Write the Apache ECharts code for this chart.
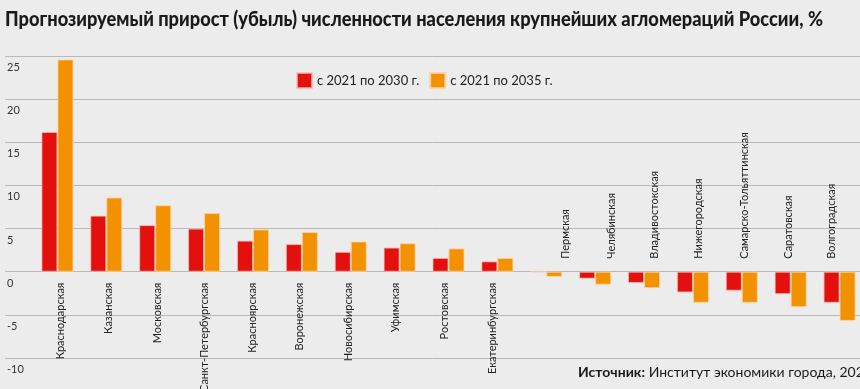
<!DOCTYPE html>
<html><head><meta charset="utf-8">
<script src="https://cdn.jsdelivr.net/npm/echarts@6.0.0/dist/echarts.min.js"></script>
<style>html,body{margin:0;padding:0;background:#ececec}#c{width:860px;height:389px}</style>
</head><body><div id="c"></div>
<script>
const categories = ['Краснодарская','Казанская','Московская','Санкт-Петербургская','Красноярская','Воронежская','Новосибирская','Уфимская','Ростовская','Екатеринбургская','Пермская','Челябинская','Владивостокская','Нижегородская','Самарско-Тольяттинская','Саратовская','Волгоградская'];
const values2030 = [16.2, 6.5, 5.4, 5.0, 3.6, 3.2, 2.3, 2.8, 1.6, 1.2, 0, -0.8, -1.3, -2.4, -2.2, -2.6, -3.6];
const values2035 = [24.6, 8.6, 7.7, 6.8, 4.9, 4.6, 3.5, 3.3, 2.7, 1.6, -0.6, -1.5, -1.9, -3.6, -3.6, -4.1, -5.7];
const seriesNames = ['с 2021 по 2030 г.', 'с 2021 по 2035 г.'];
const yMin = -10, yMax = 25, yStep = 5;
const titleText = 'Прогнозируемый прирост (убыль) численности населения крупнейших агломераций России, %';
const sourceLabel = 'Источник:';
const sourceText = 'Институт экономики города, 2023 г.';

// layout: horizontal nudge (px) of each category label, as hand-placed in the original
const labelNudge = [3, 2, 2, 0, -1, -2, -2, -4, -4, -5, 19, 16, 10, 6, 3, -2, -8];

const FONT = 'Lato, "Noto Sans", sans-serif';
const TITLE_FONT = '900 20px Lato, "Noto Sans", sans-serif';
const GRID_LINE = '#b9b9b9';
const GRID_TOP = 56, GRID_BOTTOM = 31, H = 389;
const gridH = H - GRID_TOP - GRID_BOTTOM;
const zeroFromBottom = (0 - yMin) / (yMax - yMin) * gridH;
const zeroFromTop = gridH - zeroFromBottom;

const chart = echarts.init(document.getElementById('c'), null, {renderer: 'canvas'});
const isNeg = i => values2035[i] < 0;

const mc = document.createElement('canvas').getContext('2d');
mc.font = TITLE_FONT;
const titleScale = 818 / mc.measureText(titleText).width;

const labelRich = {};
labelNudge.forEach((d, i) => {
  labelRich['s' + i] = {
    fontFamily: FONT, fontSize: 11, color: '#222',
    padding: [Math.max(0, 2 * d), 0, Math.max(0, -2 * d), 0]
  };
});
const catLabel = show => (v, i) => show(i) ? '{s' + i + '|' + v + '}' : '';

chart.setOption({
  backgroundColor: '#ececec',
  animation: false,
  legend: {
    left: 291, top: 67, itemWidth: 15, itemHeight: 15, itemGap: 10, icon: 'rect',
    textStyle: {fontFamily: FONT, fontSize: 13, color: '#222'},
    data: seriesNames
  },
  grid: [
    {left: 33, right: -4, top: GRID_TOP, bottom: GRID_BOTTOM, outerBoundsMode: 'none', containLabel: false},
    {left: 5, right: 0, top: GRID_TOP, bottom: GRID_BOTTOM, outerBoundsMode: 'none', containLabel: false}
  ],
  xAxis: [
    {type: 'category', gridIndex: 0, data: categories, position: 'bottom', offset: -zeroFromBottom,
     axisLine: {show: false, onZero: false}, axisTick: {show: false},
     axisLabel: {rotate: 90, margin: 11, interval: 0, fontFamily: FONT, fontSize: 11, color: '#222',
       rich: labelRich, formatter: catLabel(i => !isNeg(i))}},
    {type: 'category', gridIndex: 0, data: categories, position: 'top', offset: -zeroFromTop,
     axisLine: {show: false, onZero: false}, axisTick: {show: false},
     axisLabel: {rotate: -90, margin: 13, interval: 0, fontFamily: FONT, fontSize: 11, color: '#222',
       rich: labelRich, formatter: catLabel(isNeg)}},
    {type: 'value', gridIndex: 1, show: false, min: 0, max: 1}
  ],
  yAxis: [
    {type: 'value', gridIndex: 0, min: yMin, max: yMax, interval: yStep, show: false},
    {type: 'value', gridIndex: 1, min: yMin, max: yMax, interval: yStep,
     axisLine: {show: false}, axisTick: {show: false},
     splitLine: {show: true, lineStyle: {color: GRID_LINE, width: 1}},
     axisLabel: {inside: true, margin: 2, verticalAlign: 'top', padding: [6, 0, 0, 0],
       fontFamily: FONT, fontSize: 11, color: '#333'}}
  ],
  series: [
    {name: seriesNames[0], type: 'bar', xAxisIndex: 0, yAxisIndex: 0, data: values2030,
     barWidth: 16, barGap: '0%',
     itemStyle: {color: '#e3100d', borderColor: 'rgba(255,190,180,0.7)', borderWidth: 1}},
    {name: seriesNames[1], type: 'bar', xAxisIndex: 0, yAxisIndex: 0, data: values2035,
     barWidth: 16, barGap: '0%',
     itemStyle: {color: '#f39200', borderColor: 'rgba(255,210,160,0.8)', borderWidth: 1}}
  ],
  graphic: [
    {type: 'text', x: 5, y: 10, scaleX: titleScale, scaleY: 1,
     style: {text: titleText, font: TITLE_FONT, fill: '#1a1a1a', textVerticalAlign: 'top'}},
    {type: 'text', left: 578, top: 365,
     style: {
       text: '{b|' + sourceLabel + '} ' + sourceText,
       font: '14px ' + FONT, fill: '#1a1a1a',
       rich: {b: {fontWeight: 'bold', fontSize: 14, fontFamily: FONT, fill: '#1a1a1a'}}
     }}
  ]
});
</script></body></html>
